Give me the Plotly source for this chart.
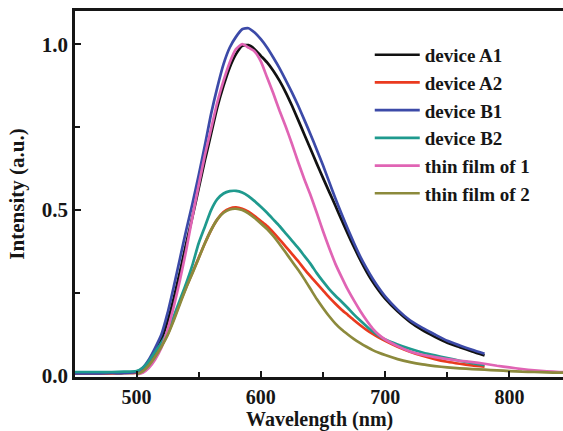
import plotly.graph_objects as go

# Wavelength grids (nm)
wl_device = [450, 460, 470, 480, 490, 500, 505, 510, 515, 520, 525, 530, 535, 540, 545,
             550, 555, 560, 565, 570, 575, 580, 585, 590, 595, 600, 605, 610, 615, 620,
             625, 630, 635, 640, 645, 650, 655, 660, 665, 670, 675, 680, 685, 690, 695,
             700, 710, 720, 730, 740, 750, 760, 770, 780]
wl_film = [500, 505, 510, 515, 520, 525, 530, 535, 540, 545, 550, 555, 560, 565, 570,
           575, 580, 585, 590, 595, 600, 605, 610, 615, 620, 625, 630, 635, 640, 645,
           650, 655, 660, 665, 670, 675, 680, 685, 690, 695, 700, 710, 720, 730, 740,
           750, 760, 770, 780, 790, 800, 810, 820, 830, 840, 850]

device_A1 = [0.008, 0.008, 0.008, 0.009, 0.009, 0.011, 0.02, 0.04, 0.072, 0.11, 0.165, 0.235,
             0.315, 0.4, 0.48, 0.565, 0.65, 0.73, 0.81, 0.875, 0.93, 0.97, 0.995, 0.997,
             0.985, 0.965, 0.945, 0.92, 0.89, 0.855, 0.815, 0.772, 0.728, 0.684, 0.64, 0.597,
             0.555, 0.513, 0.47, 0.428, 0.388, 0.35, 0.315, 0.284, 0.257, 0.233, 0.195,
             0.163, 0.138, 0.118, 0.1, 0.087, 0.074, 0.062]
device_A2 = [0.008, 0.008, 0.008, 0.008, 0.009, 0.01, 0.018, 0.035, 0.06, 0.09, 0.125, 0.172,
             0.222, 0.268, 0.312, 0.356, 0.4, 0.44, 0.472, 0.494, 0.505, 0.508, 0.504, 0.495,
             0.482, 0.467, 0.452, 0.433, 0.412, 0.39, 0.368, 0.346, 0.322, 0.3, 0.279, 0.258,
             0.237, 0.218, 0.2, 0.184, 0.168, 0.153, 0.139, 0.127, 0.116, 0.106, 0.088,
             0.073, 0.061, 0.051, 0.043, 0.037, 0.032, 0.028]
device_B1 = [0.008, 0.008, 0.008, 0.009, 0.009, 0.012, 0.025, 0.05, 0.085, 0.125, 0.19, 0.27,
             0.355, 0.44, 0.52, 0.605, 0.695, 0.79, 0.87, 0.94, 0.99, 1.022, 1.045, 1.048,
             1.035, 1.015, 0.99, 0.96, 0.928, 0.892, 0.855, 0.815, 0.772, 0.728, 0.682, 0.635,
             0.585, 0.535, 0.488, 0.443, 0.4, 0.36, 0.325, 0.293, 0.265, 0.24, 0.2, 0.168,
             0.145, 0.125, 0.106, 0.092, 0.079, 0.067]
device_B2 = [0.012, 0.012, 0.012, 0.012, 0.013, 0.015, 0.025, 0.045, 0.073, 0.1, 0.135, 0.18,
             0.23, 0.28, 0.335, 0.4, 0.45, 0.5, 0.533, 0.55, 0.557, 0.558, 0.553, 0.542,
             0.527, 0.51, 0.492, 0.472, 0.452, 0.43, 0.408, 0.386, 0.362, 0.338, 0.31, 0.285,
             0.262, 0.242, 0.224, 0.205, 0.185, 0.167, 0.15, 0.134, 0.121, 0.11, 0.095, 0.082,
             0.071, 0.062, 0.054, 0.046, 0.039, 0.033]
film_1 = [0.005, 0.01, 0.025, 0.05, 0.085, 0.14, 0.21, 0.29, 0.38, 0.48, 0.575, 0.665, 0.745,
          0.825, 0.89, 0.945, 0.985, 1.0, 0.99, 0.978, 0.948, 0.9, 0.852, 0.8, 0.752, 0.7,
          0.645, 0.593, 0.545, 0.492, 0.437, 0.386, 0.338, 0.298, 0.26, 0.227, 0.196, 0.168,
          0.143, 0.124, 0.11, 0.09, 0.074, 0.064, 0.057, 0.051, 0.046, 0.042, 0.037, 0.031,
          0.026, 0.021, 0.017, 0.014, 0.012, 0.011]
film_2 = [0.005, 0.014, 0.032, 0.058, 0.088, 0.123, 0.168, 0.218, 0.266, 0.31, 0.355, 0.4,
          0.44, 0.472, 0.492, 0.502, 0.504, 0.5, 0.49, 0.476, 0.46, 0.443, 0.422, 0.398,
          0.372, 0.346, 0.32, 0.292, 0.262, 0.232, 0.205, 0.18, 0.158, 0.14, 0.125, 0.111,
          0.099, 0.088, 0.078, 0.07, 0.063, 0.051, 0.042, 0.035, 0.03, 0.026, 0.023, 0.021,
          0.019, 0.017, 0.015, 0.013, 0.012, 0.011, 0.01, 0.01]

series = [
    ("device A1", wl_device, device_A1, "#111111"),
    ("device A2", wl_device, device_A2, "#ea3a1f"),
    ("device B1", wl_device, device_B1, "#3c4aa8"),
    ("device B2", wl_device, device_B2, "#1f9a8e"),
    ("thin film of 1", wl_film, film_1, "#e064b4"),
    ("thin film of 2", wl_film, film_2, "#8c8a3c"),
]

x_title = "Wavelength (nm)"
y_title = "Intensity (a.u.)"

FONT = "'Liberation Serif', 'Times New Roman', serif"
INK = "#161616"

fig = go.Figure()
for name, x, y, c in series:
    fig.add_trace(go.Scatter(x=x, y=y, name=name, mode="lines",
                             line=dict(color=c, width=2.7, shape="spline", smoothing=0.6)))

fig.update_layout(
    width=563, height=431,
    margin=dict(l=75, r=0, t=11, b=54, autoexpand=False),
    paper_bgcolor="white", plot_bgcolor="white",
    font=dict(family=FONT, color=INK),
    showlegend=True,
    legend=dict(x=0.604, y=0.932, xanchor="left", yanchor="top",
                bgcolor="rgba(0,0,0,0)", borderwidth=0,
                font=dict(family=FONT, size=19, weight="bold", color=INK),
                itemwidth=45, tracegroupgap=0),
)
# x-axis title placed just below the tick labels
fig.add_annotation(text=x_title, xref="paper", yref="paper", x=0.5, y=-0.117,
                   xanchor="center", yanchor="middle", showarrow=False,
                   font=dict(family=FONT, size=20, weight="bold", color=INK))
fig.update_xaxes(
    range=[450.5, 843.1], showgrid=False, zeroline=False,
    showline=True, linecolor=INK, linewidth=2.8, mirror=True,
    ticks="inside", ticklen=6, tickwidth=2, tickcolor=INK,
    tick0=500, dtick=100,
    minor=dict(dtick=50, tick0=500, ticks="inside", ticklen=5, tickwidth=2,
               tickcolor=INK, showgrid=False),
    tickfont=dict(family=FONT, size=20, weight="bold", color=INK),
)
fig.update_yaxes(
    range=[-0.003, 1.1], showgrid=False, zeroline=False,
    showline=True, linecolor=INK, linewidth=2.8, mirror=False,
    ticks="inside", ticklen=6, tickwidth=2, tickcolor=INK,
    tick0=0, dtick=0.5, tickformat=".1f",
    minor=dict(dtick=0.25, tick0=0, ticks="inside", ticklen=5, tickwidth=2,
               tickcolor=INK, showgrid=False),
    tickfont=dict(family=FONT, size=21, weight="bold", color=INK),
    title=dict(text=y_title, standoff=12,
               font=dict(family=FONT, size=21, weight="bold", color=INK)),
)

fig.write_html("out.html")
